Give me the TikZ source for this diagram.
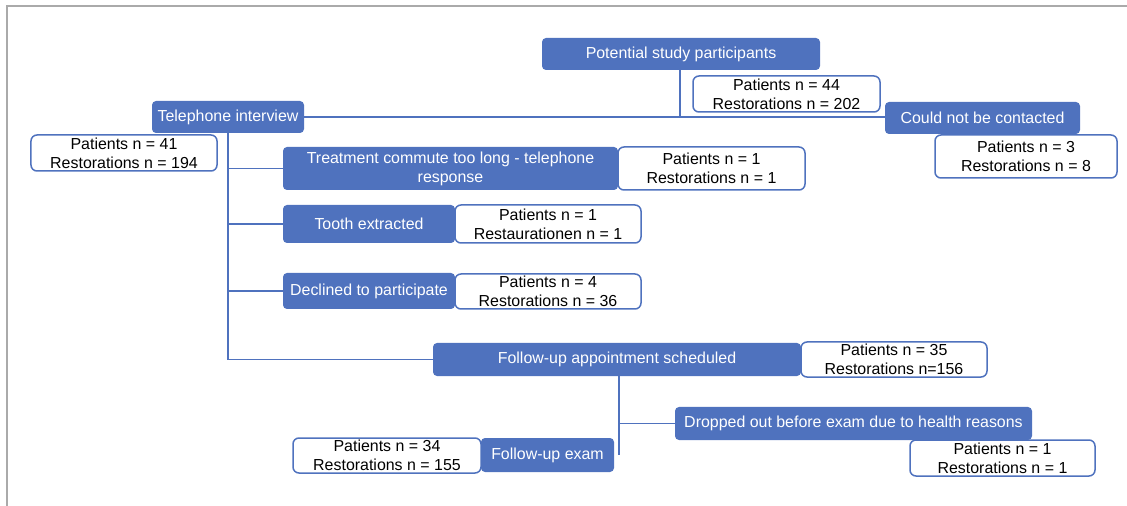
\documentclass[tikz,border=0pt]{standalone}
\usepackage{fontspec}
\setmainfont{Liberation Sans}
\definecolor{bl}{RGB}{79,114,190}
\definecolor{frame}{RGB}{170,170,170}
\begin{document}
\begin{tikzpicture}[x=1bp,y=-1bp, font=\fontsize{16}{19}\selectfont,
  bluebox/.style={fill=bl, text=white, rounded corners=4bp, inner sep=0pt, align=center},
  numbox/.style={draw=bl, line width=1.5bp, fill=white, text=black, rounded corners=6bp, inner sep=0pt, align=center},
  conn/.style={draw=bl, line width=1.6bp}]
\useasboundingbox (0,0) rectangle (1127,506);
\draw[frame, line width=1.2bp] (7,506) -- (7,6) -- (1127,6);

\coordinate (j1) at (680,117);
\coordinate (j2) at (228,359.5);
\coordinate (j3) at (619,455);

\node[bluebox, minimum width=278bp, minimum height=32bp] (pot) at (681,54) {Potential study participants};
\node[numbox, minimum width=187bp, minimum height=36bp] (p44) at (786.5,94) {Patients n = 44\\Restorations n = 202};
\node[bluebox, minimum width=152bp, minimum height=32bp] (tel) at (228,117) {Telephone interview};
\node[bluebox, minimum width=195bp, minimum height=32bp] (cnc) at (982.5,118) {Could not be contacted};
\node[numbox, minimum width=182bp, minimum height=43bp] (p3) at (1026,156.5) {Patients n = 3\\Restorations n = 8};
\node[numbox, minimum width=186bp, minimum height=36bp] (p41) at (124,153) {Patients n = 41\\Restorations n = 194};

\node[bluebox, minimum width=335bp, minimum height=43bp] (tc) at (450.5,168.5) {Treatment commute too long - telephone\\response};
\node[numbox, minimum width=187bp, minimum height=43bp] (p1a) at (711.5,168.5) {Patients n = 1\\Restorations n = 1};
\node[bluebox, minimum width=172bp, minimum height=38bp] (te) at (369,224) {Tooth extracted};
\node[numbox, minimum width=186bp, minimum height=38bp] (p1b) at (548,224) {Patients n = 1\\Restaurationen n = 1};
\node[bluebox, minimum width=172bp, minimum height=36bp] (dec) at (369,291) {Declined to participate};
\node[numbox, minimum width=186bp, minimum height=35bp] (p4) at (548,291.5) {Patients n = 4\\Restorations n = 36};

\node[bluebox, minimum width=368bp, minimum height=33bp] (fas) at (617,359.5) {Follow-up appointment scheduled};
\node[numbox, minimum width=186bp, minimum height=35bp] (p35) at (894,359.5) {Patients n = 35\\Restorations n=156};
\node[bluebox, minimum width=357bp, minimum height=33bp] (dro) at (853.5,423.5) {Dropped out before exam due to health reasons};
\node[numbox, minimum width=185bp, minimum height=36bp] (pd1) at (1002.5,458) {Patients n = 1\\Restorations n = 1};
\node[bluebox, minimum width=133bp, minimum height=34bp] (fe) at (547.5,455) {Follow-up exam};
\node[numbox, minimum width=188bp, minimum height=35bp] (p34) at (387,455.5) {Patients n = 34\\Restorations n = 155};

\draw[conn] ([yshift=3bp]pot.south -| j1) -- (j1);
\draw[conn] (tel.east) -- (tel.east -| cnc.west);
\draw[conn] ([yshift=3bp]tel.south) -- (j2) -- (fas.west);
\draw[conn] (j2 |- tc.west) -- (tc.west);
\draw[conn] (j2 |- te.west) -- (te.west);
\draw[conn] (j2 |- dec.west) -- (dec.west);
\draw[conn] ([yshift=4bp]fas.south -| j3) -- (j3);
\draw[conn] (j3 |- dro.west) -- (dro.west);
\end{tikzpicture}
\end{document}
